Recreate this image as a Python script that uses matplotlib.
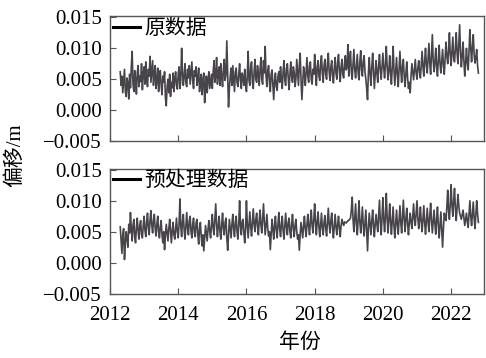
import numpy as np
import matplotlib.pyplot as plt

plt.rcParams['font.family'] = ['Liberation Serif', 'Noto Sans CJK SC']
plt.rcParams['axes.unicode_minus'] = True

# displacement samples, unit 1e-4 m, every 0.025 yr starting 2012.300
raw = [62, 40, 55, 28, 48, 66, 30, 22, 52, 44, 18, 58, 36, 70, 95, 42, 30, 64, 50, 26, 60, 72, 38, 55, 46, 75, 33, 58,
       70, 42, 78, 50, 38, 66, 55, 87, 45, 62, 80, 40, 58, 72, 35, 48, 68, 30, 52, 64, 40, 25, 55, 45, 62, 20, 7, 38, 50, 28, 58, 22, 45, 36, 60, 30, 52, 62, 40, 34,
       58, 70, 35, 48, 100, 62, 40, 55, 75, 44, 38, 66, 52, 72, 42, 60, 78, 48, 35, 64, 55, 70, 40, 50, 68, 30, 45, 58, 25, 48, 60, 12, 40, 55, 28, 50, 62, 35, 46, 58,
       35, 62, 80, 45, 55, 85, 42, 60, 70, 40, 75, 52, 38, 66, 82, 48, 58, 112, 60, 5, 35, 55, 68, 40, 72, 50, 30, 62, 68, 44, 38, 58, 75, 48, 35, 60, 52, 40, 66, 45,
       30, 55, 95, 48, 40, 70, 78, 45, 35, 62, 82, 50, 45, 72, 58, 40, 66, 85, 50, 42, 80, 60, 103, 55, 38, 64, 72, 45, 30, 58, 65, 40, 17, 48, 60, 38, 32, 55, 62, 45,
       70, 50, 35, 62, 80, 48, 40, 68, 75, 52, 33, 58, 78, 55, 45, 70, 62, 38, 50, 82, 60, 40, 72, 92, 50, 17, 45, 70, 58, 40, 62, 85, 55, 45, 72, 78, 50, 42, 66, 58,
       90, 62, 40, 70, 80, 55, 48, 75, 88, 60, 45, 72, 82, 58, 50, 76, 92, 62, 48, 70, 80, 55, 44, 68, 85, 60, 50, 78, 90, 62, 46, 70, 82, 58, 52, 75, 88, 65, 70, 106,
       55, 80, 95, 62, 50, 75, 98, 66, 52, 72, 90, 60, 49, 78, 96, 65, 55, 80, 88, 62, 50, 35, 17, 60, 85, 58, 40, 70, 92, 62, 35, 58, 80, 60, 45, 72, 90, 65, 50, 72,
       92, 68, 52, 75, 103, 70, 49, 65, 88, 60, 42, 70, 103, 66, 40, 62, 85, 58, 38, 68, 95, 65, 45, 72, 82, 55, 38, 60, 78, 52, 35, 45, 28, 55, 75, 62, 49, 66, 82, 60,
       50, 68, 80, 62, 52, 75, 95, 70, 55, 80, 100, 72, 60, 85, 108, 75, 58, 90, 122, 80, 62, 78, 100, 70, 55, 82, 105, 75, 60, 80, 98, 72, 58, 85, 110, 88, 75, 95, 125, 90,
       72, 95, 118, 85, 78, 100, 125, 92, 75, 105, 138, 95, 70, 88, 110, 80, 55, 75, 100, 78, 65, 95, 130, 100, 78, 102, 122, 90, 76, 85, 98, 72, 60]

processed = [58, 35, 15, 45, 55, 5, 30, 50, 40, 25, 62, 48, 81, 55, 35, 60, 70, 42, 32, 58, 72, 50, 38, 62, 68, 45, 40, 60,
             75, 52, 42, 66, 80, 55, 45, 70, 84, 60, 48, 68, 78, 55, 43, 62, 75, 50, 40, 58, 68, 45, 32, 50, 21, 45, 62, 48, 35, 55, 70, 50, 32, 52, 65, 45, 38, 56, 72, 50,
             40, 62, 103, 60, 42, 66, 78, 52, 38, 60, 81, 55, 45, 68, 75, 50, 40, 62, 72, 48, 42, 65, 70, 45, 30, 55, 65, 42, 27, 45, 19, 40, 60, 48, 35, 55, 68, 50, 40, 62,
             78, 55, 45, 70, 95, 62, 42, 60, 75, 50, 38, 62, 80, 55, 45, 65, 72, 40, 20, 45, 70, 55, 40, 62, 78, 55, 42, 65, 75, 50, 38, 62, 100, 60, 45, 66, 70, 48, 32, 55,
             100, 62, 40, 60, 82, 58, 43, 66, 87, 62, 50, 70, 80, 58, 45, 68, 85, 60, 48, 72, 95, 65, 45, 62, 78, 55, 43, 50, 21, 45, 70, 55, 38, 60, 75, 52, 40, 62, 81, 55,
             42, 62, 75, 52, 38, 60, 80, 58, 45, 65, 72, 50, 40, 62, 78, 55, 42, 60, 70, 50, 38, 45, 20, 45, 65, 52, 40, 60, 75, 55, 42, 62, 78, 58, 45, 68, 85, 60, 48, 70,
             95, 65, 45, 66, 82, 58, 42, 62, 80, 56, 45, 65, 76, 55, 43, 66, 88, 62, 48, 68, 80, 56, 40, 60, 78, 58, 45, 62, 75, 55, 42, 60, 70, 64, 60, 66, 65, 64, 66, 68,
             68, 70, 72, 85, 106, 70, 50, 72, 95, 62, 45, 70, 100, 66, 48, 68, 90, 60, 43, 65, 85, 50, 19, 55, 80, 62, 45, 68, 85, 60, 42, 62, 78, 62, 50, 75, 101, 66, 45, 72,
             105, 70, 50, 75, 112, 72, 48, 70, 95, 66, 46, 68, 90, 60, 40, 62, 85, 62, 46, 70, 92, 65, 48, 75, 101, 70, 50, 72, 88, 62, 45, 65, 80, 66, 55, 75, 95, 70, 60, 80,
             100, 72, 55, 70, 90, 66, 50, 72, 92, 65, 46, 68, 88, 66, 50, 75, 96, 68, 48, 66, 85, 62, 46, 70, 90, 60, 40, 62, 82, 52, 25, 55, 80, 72, 68, 90, 117, 85, 70, 95,
             126, 92, 75, 100, 120, 88, 68, 90, 110, 92, 80, 75, 70, 78, 85, 72, 60, 70, 80, 66, 57, 78, 100, 75, 60, 80, 98, 72, 55, 78, 100, 80, 65]

labels = ['原数据', '预处理数据']
year_ticks = [2012, 2014, 2016, 2018, 2020, 2022]
y_ticks = [-0.005, 0.0, 0.005, 0.010, 0.015]

t_raw = 2012.30 + 0.025 * np.arange(len(raw))
t_pro = 2012.30 + 0.025 * np.arange(len(processed))

fig = plt.figure(figsize=(4.86, 3.58), dpi=100)
ax1 = fig.add_axes([0.2263, 0.606, 0.770, 0.349])
ax2 = fig.add_axes([0.2263, 0.180, 0.770, 0.349])

line_color = '#47454a'
for ax, t, vals, lab in [(ax1, t_raw, raw, labels[0]), (ax2, t_pro, processed, labels[1])]:
    ax.plot(t, np.array(vals) * 1e-4, color=line_color, lw=1.2)
    ax.set_xlim(2012, 2022.97)
    ax.set_ylim(-0.005, 0.0152)
    ax.set_yticks(y_ticks)
    ax.set_yticklabels([('%.3f' % v).replace('-', '\u2212') for v in y_ticks])
    ax.set_xticks(year_ticks)
    ax.tick_params(direction='in', labelsize=15, length=4, color='#555555')
    ax.tick_params(axis='y', pad=6)
    ax.tick_params(axis='x', pad=9)
    for s in ax.spines.values():
        s.set_color('#555555')
        s.set_linewidth(1.0)
    # legend: short black bar plus label
    ax.plot([], [], color='black', lw=2.2, label=lab)
    ax.legend(handles=[ax.lines[-1]], loc='upper left', frameon=False, fontsize=15,
              handlelength=1.3, handletextpad=0.2, borderaxespad=0.1,
              borderpad=0.05)

ax1.set_xticklabels([])
ax2.set_xticklabels([str(y) for y in year_ticks])

fig.text(0.031, 0.567, '偏移/m', rotation=90, fontsize=15, va='center', ha='center')
fig.text(0.617, 0.015, '年份', fontsize=15, ha='center', va='bottom')

fig.savefig('out.png', dpi=100)
